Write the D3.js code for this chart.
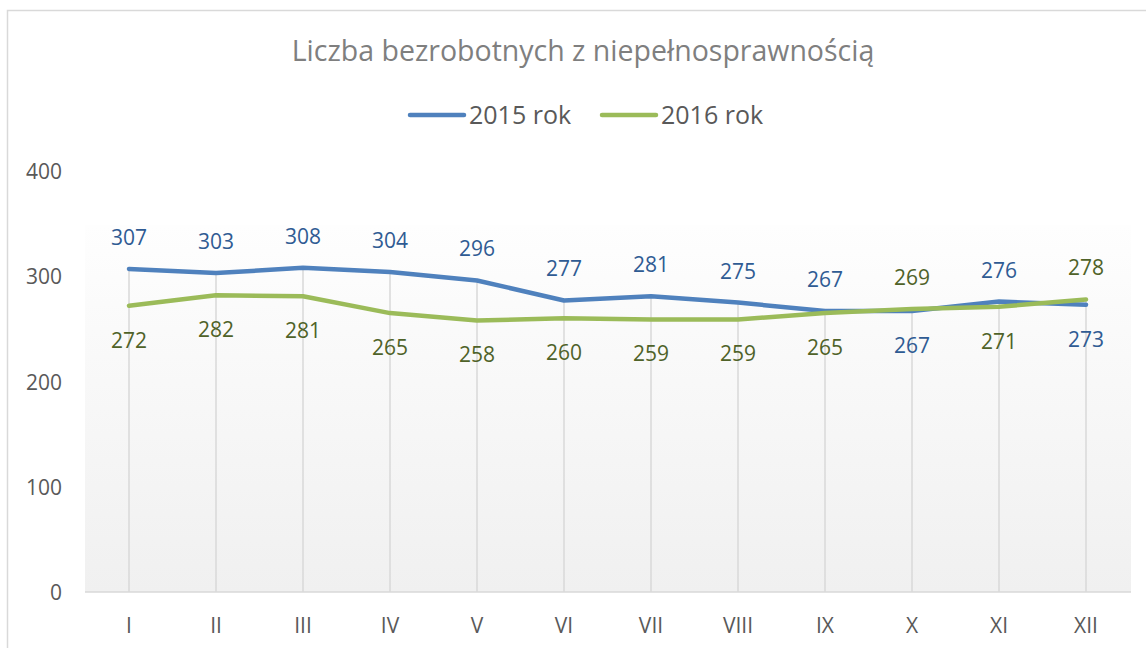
<!DOCTYPE html>
<html>
<head>
<meta charset="utf-8">
<script src="https://cdn.jsdelivr.net/npm/d3@7"></script>
<style>
  body { margin: 0; background: #fff; }
  svg { display: block; font-family: 'Open Sans', 'Noto Sans', sans-serif; }
</style>
</head>
<body>
<svg id="chart" width="1146" height="648"></svg>
<script>
const months = ['I', 'II', 'III', 'IV', 'V', 'VI', 'VII', 'VIII', 'IX', 'X', 'XI', 'XII'];
const rok2015 = [307, 303, 308, 304, 296, 277, 281, 275, 267, 267, 276, 273];
const rok2016 = [272, 282, 281, 265, 258, 260, 259, 259, 265, 269, 271, 278];
const yTicks = [0, 100, 200, 300, 400];

const series = [
  { name: '2015 rok', values: rok2015, color: '#4f81bd', labelColor: '#2f5b93' },
  { name: '2016 rok', values: rok2016, color: '#9bbb59', labelColor: '#4f6228' }
];

const svg = d3.select('#chart');

// outer frame (cut off at right and bottom like the original)
svg.append('rect')
  .attr('x', 7.5).attr('y', 10.5)
  .attr('width', 1160).attr('height', 660)
  .attr('fill', '#fff')
  .attr('stroke', '#d9d9d9')
  .attr('stroke-width', 1.5);

const x = d3.scalePoint().domain(months).range([129, 1086]);
const y = d3.scaleLinear().domain([0, 400]).range([592, 171]);

// plot area background gradient
const grad = svg.append('defs').append('linearGradient')
  .attr('id', 'bg').attr('x1', 0).attr('y1', 0).attr('x2', 0).attr('y2', 1);
grad.append('stop').attr('offset', '0%').attr('stop-color', '#fefefe');
grad.append('stop').attr('offset', '100%').attr('stop-color', '#f0f0f0');

svg.append('rect')
  .attr('x', 85).attr('y', 225)
  .attr('width', 1131 - 85).attr('height', 592 - 225)
  .attr('fill', 'url(#bg)');

// title
svg.append('text')
  .text('Liczba bezrobotnych z niepełnosprawnością')
  .attr('x', 583).attr('y', 61)
  .attr('text-anchor', 'middle')
  .style('font-size', '28.5px')
  .style('fill', '#7f7f7f');

// legend
const legendX = [410, 602];
series.forEach(function (s, i) {
  svg.append('line')
    .attr('x1', legendX[i]).attr('x2', legendX[i] + 54)
    .attr('y1', 115).attr('y2', 115)
    .attr('stroke', s.color)
    .attr('stroke-width', 4.5)
    .attr('stroke-linecap', 'round');
  svg.append('text')
    .text(s.name)
    .attr('x', legendX[i] + 59).attr('y', 124)
    .style('font-size', '25px')
    .style('fill', '#595959');
});

// drop lines
months.forEach(function (m, i) {
  const top = Math.max(rok2015[i], rok2016[i]);
  svg.append('line')
    .attr('x1', x(m)).attr('x2', x(m))
    .attr('y1', y(top)).attr('y2', y(0))
    .attr('stroke', '#d9d9d9')
    .attr('stroke-width', 1.5);
});

// x axis baseline
svg.append('line')
  .attr('x1', 85).attr('x2', 1131)
  .attr('y1', y(0)).attr('y2', y(0))
  .attr('stroke', '#d9d9d9')
  .attr('stroke-width', 1.5);

// y tick labels
svg.selectAll('.ytick')
  .data(yTicks)
  .enter()
  .append('text')
  .attr('class', 'ytick')
  .text(d => d)
  .attr('x', 62)
  .attr('y', d => y(d) + 8)
  .attr('text-anchor', 'end')
  .style('font-size', '21px')
  .style('fill', '#595959');

// x tick labels
svg.selectAll('.xtick')
  .data(months)
  .enter()
  .append('text')
  .attr('class', 'xtick')
  .text(d => d)
  .attr('x', d => x(d))
  .attr('y', 633)
  .attr('text-anchor', 'middle')
  .style('font-size', '21px')
  .style('fill', '#595959');

// lines
const line = d3.line()
  .x((d, i) => x(months[i]))
  .y(d => y(d));

series.forEach(function (s) {
  svg.append('path')
    .datum(s.values)
    .attr('d', line)
    .attr('fill', 'none')
    .attr('stroke', s.color)
    .attr('stroke-width', 4.5)
    .attr('stroke-linejoin', 'round')
    .attr('stroke-linecap', 'round');
});

// data labels: higher value above, lower value below
series.forEach(function (s, si) {
  const other = series[1 - si].values;
  svg.selectAll('.lab' + si)
    .data(s.values)
    .enter()
    .append('text')
    .attr('class', 'lab' + si)
    .text(d => d)
    .attr('x', (d, i) => x(months[i]))
    .attr('y', function (d, i) {
      const above = d > other[i] || (d === other[i] && si === 0);
      return above ? y(d) - 24 : y(d) + 42;
    })
    .attr('text-anchor', 'middle')
    .style('font-size', '21px')
    .style('fill', s.labelColor);
});
</script>
</body>
</html>
